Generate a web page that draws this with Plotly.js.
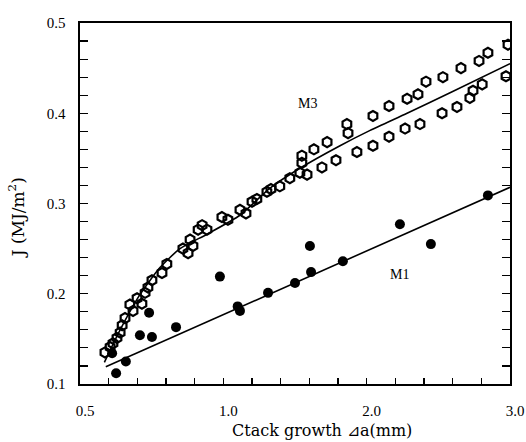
<!DOCTYPE html>
<html>
<head>
<meta charset="utf-8">
<script src="https://cdn.plot.ly/plotly-3.0.1.min.js"></script>
<style>html,body{margin:0;padding:0;background:#fff;}#chart{width:526px;height:442px;}</style>
</head>
<body>
<div id="chart"></div>
<script>
// x values are positions read on the printed (non-uniform) crack-growth axis:
// axis units run 0.5 .. 2.0 with tick labels 0.5, 1.0, 2.0, 3.0
const m3X = [0.587,0.605,0.615,0.629,0.640,0.647,0.657,0.674,0.685,0.699,0.716,0.727,0.737,0.751,0.786,0.803,
  0.859,0.877,0.884,0.894,0.912,0.926,0.943,0.995,1.016,1.058,1.079,1.100,1.117,1.152,1.166,1.197,1.232,1.267,
  1.274,1.274,1.292,1.316,1.344,1.362,1.393,1.431,1.435,1.466,1.522,1.522,1.578,1.578,1.634,1.641,1.679,1.686,
  1.707,1.763,1.766,1.815,1.829,1.860,1.871,1.892,1.903,1.923,1.986,1.993];
const m3Y = [0.135,0.141,0.145,0.151,0.157,0.165,0.173,0.188,0.181,0.195,0.189,0.201,0.207,0.215,0.223,0.233,
  0.250,0.245,0.260,0.253,0.271,0.276,0.271,0.285,0.282,0.293,0.289,0.302,0.305,0.313,0.316,0.319,0.328,0.334,
  0.353,0.345,0.332,0.360,0.340,0.368,0.348,0.388,0.378,0.357,0.364,0.397,0.408,0.374,0.383,0.416,0.421,0.388,
  0.435,0.400,0.440,0.407,0.450,0.417,0.425,0.458,0.432,0.467,0.441,0.476];

const m1X = [0.612,0.626,0.660,0.709,0.741,0.751,0.835,0.988,1.050,1.058,1.156,1.250,1.302,1.306,1.417,1.616,1.724,1.923];
const m1Y = [0.134,0.112,0.125,0.154,0.179,0.152,0.163,0.219,0.186,0.181,0.201,0.212,0.253,0.224,0.236,0.277,0.255,0.309];

const m3FitX = [0.585,0.640,0.709,0.779,0.849,0.943,1.058,1.163,1.267,1.407,1.512,1.641,1.800,2.000];
const m3FitY = [0.124,0.160,0.199,0.229,0.250,0.266,0.287,0.317,0.339,0.364,0.381,0.400,0.424,0.455];

const m1FitX = [0.590,2.000];
const m1FitY = [0.119,0.318];

const xTickVals = [0.5,0.6,0.7,0.8,0.9,1.0,1.1,1.2,1.3,1.4,1.5,1.6,1.7,1.8,1.9,2.0];
const xTickText = ['0.5','','','','','1.0','','','','','2.0','','','','','3.0'];
const yTickVals = [0.10,0.12,0.14,0.16,0.18,0.20,0.22,0.24,0.26,0.28,0.30,0.32,0.34,0.36,0.38,0.40,0.42,0.44,0.46,0.48,0.50];
const yTickText = ['0.1','','','','','0.2','','','','','0.3','','','','','0.4','','','','','0.5'];

const serif = '"Liberation Serif", "DejaVu Serif", serif';
const wideSerif = '"DejaVu Serif", "Liberation Serif", serif';

const traces = [
  {x: m3FitX, y: m3FitY, mode: 'lines', line: {color: '#000', width: 1.6, shape: 'spline', smoothing: 0.6}, hoverinfo: 'skip', showlegend: false},
  {x: m1FitX, y: m1FitY, mode: 'lines', line: {color: '#000', width: 1.6}, hoverinfo: 'skip', showlegend: false},
  {x: m3X, y: m3Y, mode: 'markers', name: 'M3',
   marker: {symbol: 'hexagon-open', size: 10, color: '#000', line: {color: '#000', width: 2.2}}, showlegend: false},
  {x: m1X, y: m1Y, mode: 'markers', name: 'M1',
   marker: {symbol: 'circle', size: 10, color: '#000'}, showlegend: false}
];

const layout = {
  width: 526, height: 442,
  margin: {l: 80, r: 16, t: 23, b: 58},
  paper_bgcolor: '#fff', plot_bgcolor: '#fff',
  font: {family: serif, color: '#000', size: 15},
  xaxis: {
    range: [0.5, 2.0], showgrid: false, zeroline: false,
    showline: true, linecolor: '#000', linewidth: 1.6, mirror: true,
    ticks: 'inside', ticklen: 6, tickwidth: 1.2, tickcolor: '#000',
    tickmode: 'array', tickvals: xTickVals, ticktext: xTickText,
    ticklabelstandoff: 12, ticklabelshift: 5,
    tickfont: {family: serif, size: 15, color: '#000'}
  },
  yaxis: {
    range: [0.1, 0.5], showgrid: false, zeroline: false,
    showline: true, linecolor: '#000', linewidth: 1.6, mirror: 'ticks',
    ticks: 'inside', ticklen: 8, tickwidth: 1.2, tickcolor: '#000',
    tickmode: 'array', tickvals: yTickVals, ticktext: yTickText,
    ticklabelstandoff: 10,
    tickfont: {family: serif, size: 15, color: '#000'}
  },
  annotations: [
    {text: 'M3', x: 1.295, y: 0.411, xref: 'x', yref: 'y', showarrow: false, font: {family: serif, size: 14, color: '#000'}},
    {text: 'M1', x: 1.616, y: 0.221, xref: 'x', yref: 'y', showarrow: false, font: {family: serif, size: 14, color: '#000'}},
    {text: 'Ctack growth ⊿a(mm)', xref: 'paper', yref: 'paper', x: 0.563, y: -0.128, yanchor: 'middle', xanchor: 'center',
     showarrow: false, font: {family: wideSerif, size: 16, color: '#000'}},
    {text: 'J (MJ/m<sup>2</sup>)', xref: 'paper', yref: 'paper', x: -0.148, y: 0.46, xanchor: 'center', yanchor: 'middle',
     textangle: -90, showarrow: false, font: {family: wideSerif, size: 17, color: '#000'}}
  ]
};

Plotly.newPlot('chart', traces, layout, {displayModeBar: false, staticPlot: true});
</script>
</body>
</html>
